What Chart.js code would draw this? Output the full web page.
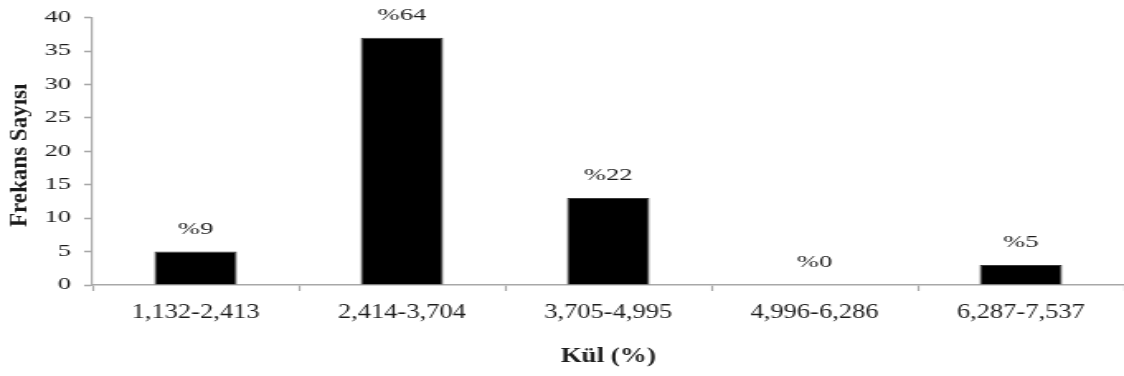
<!DOCTYPE html>
<html>
<head>
<meta charset="utf-8">
<script src="https://cdn.jsdelivr.net/npm/chart.js@4.4.1/dist/chart.umd.min.js"></script>
<style>
  html, body { margin: 0; padding: 0; background: #fff; overflow: hidden; }
  #wrap { width: 1124px; height: 376px; position: relative; }
  #c { transform-origin: 0 0; }
</style>
</head>
<body>
<div id="wrap"><canvas id="c" width="681" height="376"></canvas></div>
<script>
// Ash content classes (Kül %) and how many samples fall in each
const categories = ['1,132-2,413', '2,414-3,704', '3,705-4,995', '4,996-6,286', '6,287-7,537'];
const counts = [5, 37, 13, 0, 3];
const shares = ['%9', '%64', '%22', '%0', '%5'];
const yMin = 0, yMax = 40, yStep = 5;
const xTitle = 'Kül (%)';
const yTitle = 'Frekans Sayısı';

// the canvas is drawn narrow and widened horizontally on the page
const PAGE_W = 1124;
const canvas = document.getElementById('c');
const STRETCH = PAGE_W / canvas.width;
canvas.style.transform = 'scaleX(' + STRETCH + ')';

const SERIF = "'Liberation Serif', 'Times New Roman', serif";
const AXIS = '#a8a8a8';
const INK = '#1c1c1c';

// draw text at (x, y) with its own horizontal widening on the page
function wideText(ctx, text, x, y, font, widen) {
  ctx.save();
  ctx.translate(x, y);
  ctx.scale(widen / STRETCH, 1);
  ctx.font = font;
  ctx.fillStyle = INK;
  ctx.textAlign = 'center';
  ctx.textBaseline = 'alphabetic';
  ctx.fillText(text, 0, 0);
  ctx.restore();
}

// percentage share written above each bar
const shareLabels = {
  id: 'shareLabels',
  afterDatasetsDraw(chart) {
    const ctx = chart.ctx;
    const meta = chart.getDatasetMeta(0);
    ctx.save();
    ctx.font = '16px ' + SERIF;
    ctx.fillStyle = INK;
    ctx.textAlign = 'center';
    ctx.textBaseline = 'middle';
    meta.data.forEach((bar, i) => {
      ctx.fillText(shares[i], bar.x, bar.y - 22);
    });
    ctx.restore();
  }
};

// category names and axis titles
const axisText = {
  id: 'axisText',
  afterDraw(chart) {
    const ctx = chart.ctx;
    const xs = chart.scales.x;
    const area = chart.chartArea;
    categories.forEach((name, i) => {
      wideText(ctx, name, xs.getPixelForTick(i), area.bottom + 33, '21px ' + SERIF, 1.26);
    });
    wideText(ctx, xTitle, (area.left + area.right) / 2, 362, 'bold 20px ' + SERIF, 1.35);

    ctx.save();
    ctx.scale(1 / STRETCH, 1);
    ctx.translate(21, (area.top + area.bottom) / 2 + 4);
    ctx.rotate(-Math.PI / 2);
    ctx.font = 'bold 23px ' + SERIF;
    ctx.fillStyle = INK;
    ctx.textAlign = 'center';
    ctx.textBaseline = 'middle';
    ctx.fillText(yTitle, 0, 0);
    ctx.restore();
  }
};

new Chart(canvas, {
  type: 'bar',
  data: {
    labels: categories,
    datasets: [{
      data: counts,
      backgroundColor: '#000',
      borderColor: '#3a3a3a',
      borderWidth: 1,
      categoryPercentage: 1,
      barPercentage: 0.4
    }]
  },
  plugins: [shareLabels, axisText],
  options: {
    responsive: false,
    animation: false,
    layout: { padding: { top: 16, right: 0, bottom: 0, left: 0 } },
    plugins: {
      legend: { display: false },
      tooltip: { enabled: false }
    },
    scales: {
      x: {
        grid: {
          display: true,
          drawOnChartArea: false,
          drawTicks: true,
          tickLength: 6,
          tickColor: AXIS,
          tickWidth: 1.2,
          offset: true
        },
        border: { display: true, color: AXIS, width: 1.6 },
        ticks: { display: false },
        afterFit(scale) { scale.height = 91; }
      },
      y: {
        min: yMin,
        max: yMax,
        grid: {
          display: true,
          drawOnChartArea: false,
          drawTicks: true,
          tickLength: 5,
          tickColor: AXIS,
          tickWidth: 1.6
        },
        border: { display: true, color: AXIS, width: 1.2 },
        ticks: {
          stepSize: yStep,
          color: INK,
          padding: 8,
          font: { family: SERIF, size: 16 }
        },
        afterFit(scale) { scale.width = 56; }
      }
    }
  }
});
</script>
</body>
</html>
